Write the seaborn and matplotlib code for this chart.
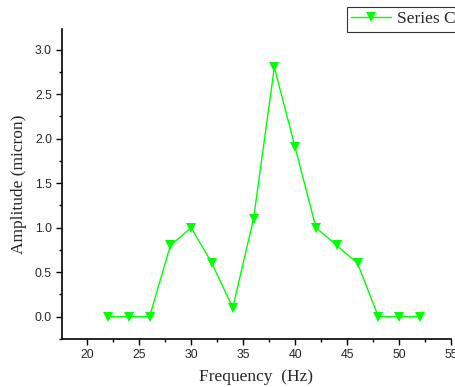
import matplotlib
matplotlib.use("Agg")
import matplotlib.pyplot as plt
import seaborn as sns
import pandas as pd
from matplotlib.ticker import MultipleLocator

frequency = [22, 24, 26, 28, 30, 32, 34, 36, 38, 40, 42, 44, 46, 48, 50, 52]
amplitude = [0.0, 0.0, 0.0, 0.8, 1.0, 0.6, 0.1, 1.1, 2.8, 1.9, 1.0, 0.8, 0.6, 0.0, 0.0, 0.0]
series_name = "Series C"

df = pd.DataFrame({"Frequency": frequency, "Amplitude": amplitude})

sns.set_style("ticks")
plt.rcParams["font.family"] = ["Liberation Sans", "DejaVu Sans"]

fig = plt.figure(figsize=(4.56, 3.87), dpi=100)
ax = fig.add_axes([0.1353, 0.124, 0.854, 0.801])

sns.lineplot(data=df, x="Frequency", y="Amplitude", ax=ax, color="#00ff00",
             linewidth=1.0, marker="v", markersize=7, markeredgewidth=0,
             label=series_name)

ax.set_xlim(17.55, 55)
ax.set_ylim(-0.25, 3.23)
ax.xaxis.set_major_locator(MultipleLocator(5))
ax.xaxis.set_minor_locator(MultipleLocator(2.5))
ax.yaxis.set_major_locator(MultipleLocator(0.5))
ax.yaxis.set_minor_locator(MultipleLocator(0.25))
ax.tick_params(which="major", direction="out", length=4, width=1, labelsize=8.8,
               color="black", pad=3)
ax.tick_params(which="minor", direction="out", length=2.5, width=1, color="black")
ax.set_yticks([0.0, 0.5, 1.0, 1.5, 2.0, 2.5, 3.0])
ax.set_yticklabels(["0.0", "0.5", "1.0", "1.5", "2.0", "2.5", "3.0"])

for side in ("top", "right"):
    ax.spines[side].set_visible(False)
for side in ("left", "bottom"):
    ax.spines[side].set_linewidth(1.2)
    ax.spines[side].set_color("black")

serif = ["Liberation Serif", "DejaVu Serif"]
ax.set_xlabel("Frequency  (Hz)", family=serif, fontsize=12.5, labelpad=6)
ax.set_ylabel("Amplitude (micron)", family=serif, fontsize=12.5, labelpad=6)

leg = ax.legend(loc="upper left", bbox_to_anchor=(347 / 456, 1 - 7 / 387),
                bbox_transform=fig.transFigure, frameon=True, fancybox=False,
                prop={"family": serif, "size": 12.5}, handlelength=2.3,
                borderpad=0.25, handletextpad=0.35, borderaxespad=0)
leg.get_frame().set_edgecolor("black")
leg.get_frame().set_linewidth(0.8)

fig.savefig("out.png", dpi=100)
